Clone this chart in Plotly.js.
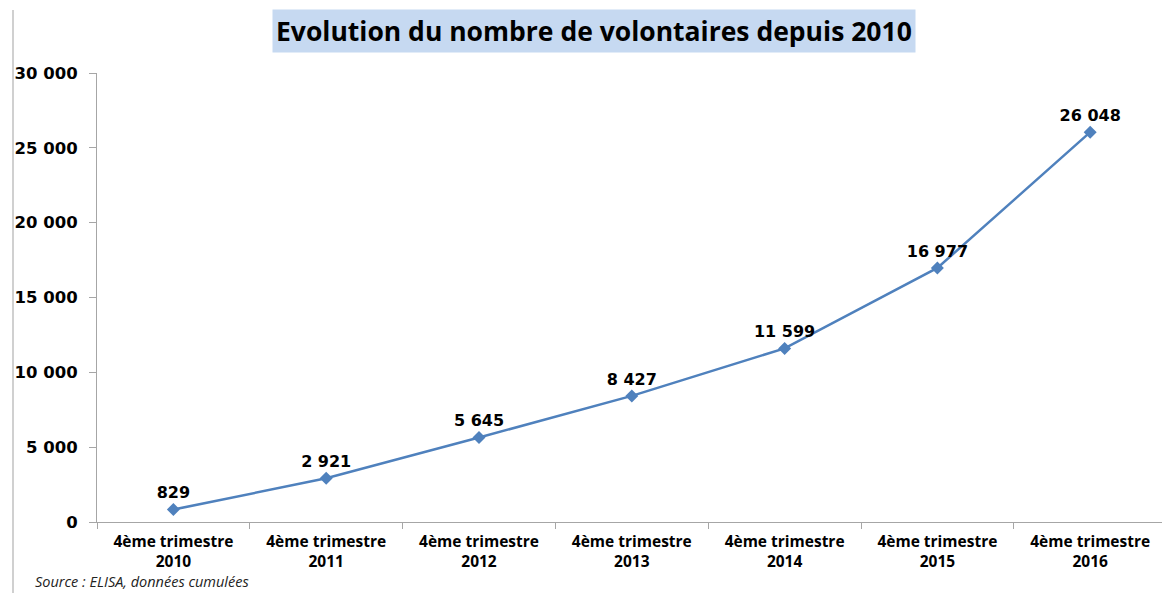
<!DOCTYPE html>
<html><head><meta charset="utf-8">
<script src="https://cdn.plot.ly/plotly-3.0.1.min.js"></script>
<style>html,body{margin:0;padding:0;background:#fff}#chart{width:1162px;height:593px}</style>
</head><body><div id="chart"></div>
<script>
const categories = ["4ème trimestre<br>2010","4ème trimestre<br>2011","4ème trimestre<br>2012","4ème trimestre<br>2013","4ème trimestre<br>2014","4ème trimestre<br>2015","4ème trimestre<br>2016"];
const volontaires = [829, 2921, 5645, 8427, 11599, 16977, 26048];
const yTicks = [0, 5000, 10000, 15000, 20000, 25000, 30000];
const titleText = "Evolution du nombre de volontaires depuis 2010";
const sourceText = "Source : ELISA, données cumulées";

const W = 1162, H = 593, L = 97, T = 73, B = 71;
const plotW = W - L;
const catW = 152.8;
const xMax = -0.5 + plotW / catW;

const trace = {
  type: "scatter",
  mode: "lines+markers+text",
  x: categories,
  y: volontaires,
  line: {color: "#4f81bd", width: 2.5},
  marker: {symbol: "diamond", size: 10, color: "#4f81bd"},
  texttemplate: "%{y:,d}",
  textposition: "top center",
  textfont: {family: "DejaVu Sans", size: 16, color: "#000", weight: "bold"},
  hoverinfo: "skip",
  cliponaxis: false
};

const layout = {
  width: W, height: H,
  margin: {l: L, r: 0, t: T, b: B, pad: 0},
  paper_bgcolor: "#fff", plot_bgcolor: "#fff",
  separators: ", ",
  showlegend: false,
  font: {family: "DejaVu Sans", color: "#000"},
  xaxis: {
    type: "category",
    range: [-0.5, xMax],
    tickson: "boundaries",
    ticks: "outside", ticklen: 6, tickcolor: "#a6a6a6", tickwidth: 1,
    showline: true, linecolor: "#a6a6a6", linewidth: 1,
    showgrid: false, zeroline: false,
    tickfont: {family: "Open Sans", size: 15.5, color: "#000", weight: "bold"},
    ticklabelstandoff: 5,
    fixedrange: true
  },
  yaxis: {
    range: [0, 30000],
    tickmode: "array",
    tickvals: yTicks,
    tickformat: ",d",
    ticks: "outside", ticklen: 7, tickcolor: "#a6a6a6", tickwidth: 1,
    showline: true, linecolor: "#a6a6a6", linewidth: 1,
    showgrid: false, zeroline: false,
    tickfont: {family: "DejaVu Sans", size: 16.5, color: "#000", weight: "bold"},
    ticklabelstandoff: 8,
    fixedrange: true
  },
  annotations: [
    {
      xref: "paper", yref: "paper",
      x: (594 - L) / plotW, y: 1 + (T - 31) / (H - T - B),
      xanchor: "center", yanchor: "middle",
      text: "<b>" + titleText + "</b>",
      showarrow: false,
      bgcolor: "#c6d9f1",
      borderpad: 3,
      font: {family: "Open Sans", size: 26.5, color: "#000"}
    },
    {
      xref: "paper", yref: "paper",
      x: (33 - L) / plotW, y: -(581 - (H - B)) / (H - T - B),
      xanchor: "left", yanchor: "middle",
      text: "<i>" + sourceText + "</i>",
      showarrow: false,
      font: {family: "Open Sans", size: 14.5, color: "#222"}
    }
  ],
  shapes: [
    {type: "line", xref: "paper", yref: "paper",
     x0: (13 - L) / plotW, x1: (13 - L) / plotW,
     y0: -(H - (H - B)) / (H - T - B), y1: 1 + (T - 10) / (H - T - B),
     line: {color: "#d0d0d0", width: 2}}
  ]
};

Plotly.newPlot("chart", [trace], layout, {staticPlot: true, displayModeBar: false});
</script>
</body></html>
